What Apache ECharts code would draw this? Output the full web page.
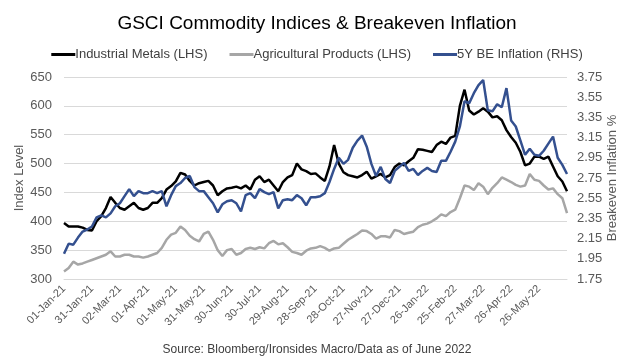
<!DOCTYPE html>
<html>
<head>
<meta charset="utf-8">
<title>GSCI Commodity Indices & Breakeven Inflation</title>
<script src="https://cdn.jsdelivr.net/npm/echarts@6/dist/echarts.min.js"></script>
<style>
    html, body { margin: 0; padding: 0; background: #fff; }
    #chart { width: 634px; height: 362px; }
</style>
</head>
<body>
<div id="chart"></div>
<script>
'use strict'
// 5-day samples from 01-Jan-21
var startDate = [2021, 0, 1];
var stepDays = 5;
var lastLabelIndex = 102; // 26-May-22

//Industrial Metals (LHS)
var metals = [397, 391, 391, 391, 389, 385, 384, 400, 409, 423, 442, 432, 423, 420, 426, 432, 423, 420, 423, 432,
    432, 440, 455, 461, 469, 484, 481, 470, 462, 466, 468, 470, 462, 445, 452, 457, 458, 460, 457, 462,
    455, 472, 478, 468, 472, 462, 452, 468, 476, 480, 500, 490, 487, 482, 483, 476, 470, 495, 532, 500,
    485, 480, 478, 476, 480, 486, 474, 478, 482, 476, 480, 494, 500, 497, 504, 510, 525, 524, 522, 520,
    532, 538, 534, 545, 548, 600, 628, 592, 585, 590, 596, 590, 580, 582, 575, 558, 546, 536, 520, 497,
    500, 512, 512, 508, 512, 495, 478, 469, 452];
//Agricultural Products (LHS)
var agri = [313, 319, 330, 325, 327, 330, 333, 336, 339, 342, 348, 339, 339, 342, 342, 339, 339, 337, 339, 342,
    345, 354, 368, 377, 380, 391, 385, 375, 369, 365, 378, 382, 368, 350, 340, 350, 352, 342, 345, 352,
    354, 352, 355, 353, 362, 366, 360, 362, 355, 347, 345, 342, 349, 353, 354, 357, 354, 349, 353, 354,
    361, 368, 373, 378, 384, 383, 378, 370, 374, 374, 372, 385, 383, 378, 380, 382, 390, 394, 396, 400,
    405, 412, 409, 416, 420, 440, 462, 460, 454, 466, 460, 447, 458, 466, 476, 472, 468, 463, 460, 462,
    482, 472, 470, 462, 455, 457, 447, 440, 414];
//5Y BE Inflation (RHS)
var breakeven = [2.00, 2.10, 2.09, 2.16, 2.22, 2.24, 2.27, 2.36, 2.38, 2.36, 2.40, 2.47, 2.50, 2.57, 2.64, 2.57, 2.62, 2.60, 2.60, 2.62,
    2.60, 2.62, 2.47, 2.58, 2.67, 2.70, 2.75, 2.77, 2.66, 2.62, 2.62, 2.56, 2.50, 2.41, 2.49, 2.52, 2.53, 2.50, 2.42, 2.58,
    2.60, 2.55, 2.64, 2.61, 2.59, 2.61, 2.45, 2.53, 2.54, 2.53, 2.58, 2.55, 2.48, 2.56, 2.56, 2.57, 2.60, 2.71, 2.84, 2.95,
    2.89, 2.93, 3.05, 3.12, 3.17, 3.06, 2.89, 2.77, 2.86, 2.74, 2.70, 2.82, 2.86, 2.90, 2.82, 2.84, 2.78, 2.82, 2.85, 2.82,
    2.81, 2.92, 2.92, 3.01, 3.11, 3.26, 3.51, 3.49, 3.59, 3.67, 3.72, 3.42, 3.41, 3.48, 3.45, 3.64, 3.32, 3.26, 3.12, 2.98,
    3.04, 2.98, 2.97, 3.02, 3.09, 3.16, 2.95, 2.88, 2.79];

var monthNames = ['Jan', 'Feb', 'Mar', 'Apr', 'May', 'Jun', 'Jul', 'Aug', 'Sep', 'Oct', 'Nov', 'Dec'];
var dates = [];
for (var i = 0; i < metals.length; i++) {
    var d = new Date(Date.UTC(startDate[0], startDate[1], startDate[2] + i * stepDays));
    var dd = ('0' + d.getUTCDate()).slice(-2);
    dates.push(dd + '-' + monthNames[d.getUTCMonth()] + '-' + String(d.getUTCFullYear()).slice(-2));
}

var font = 'Liberation Sans, Arial, sans-serif';
var chart = echarts.init(document.getElementById('chart'));
var option = {
    backgroundColor: '#ffffff',
    animation: false,
    textStyle: { fontFamily: font },
    title: [{
        text: 'GSCI Commodity Indices & Breakeven Inflation',
        left: 'center',
        top: 9,
        textStyle: { fontFamily: font, fontSize: 19, fontWeight: 'normal', color: '#000000' }
    }, {
        text: 'Source: Bloomberg/Ironsides Macro/Data as of June 2022',
        left: 'center',
        top: 339,
        textStyle: { fontFamily: font, fontSize: 12, fontWeight: 'normal', color: '#404040' }
    }],
    legend: {
        top: 43,
        left: 'center',
        icon: 'rect',
        itemWidth: 24,
        itemHeight: 3,
        itemGap: 22,
        textStyle: { fontFamily: font, fontSize: 13, color: '#404040', padding: [0, 0, 0, -5] },
        data: ['Industrial Metals (LHS)', 'Agricultural Products (LHS)', '5Y BE Inflation (RHS)']
    },
    grid: { left: 64, right: 67, top: 77, bottom: 83 },
    xAxis: {
        type: 'category',
        boundaryGap: false,
        data: dates,
        axisLine: { lineStyle: { color: '#d9d9d9' } },
        axisTick: { show: false },
        axisLabel: {
            interval: function (idx) { return idx % 6 === 0 && idx <= lastLabelIndex; },
            rotate: 45,
            margin: 8,
            fontSize: 11,
            color: '#595959',
            fontFamily: font
        }
    },
    yAxis: [{
        type: 'value',
        min: 300,
        max: 650,
        interval: 50,
        name: 'Index Level',
        nameLocation: 'middle',
        nameRotate: 90,
        nameGap: 38,
        nameMoveOverlap: false,
        nameTextStyle: { fontSize: 13, color: '#595959', fontFamily: font },
        axisLine: { show: false },
        axisTick: { show: false },
        axisLabel: { fontSize: 13, color: '#595959', margin: 12, fontFamily: font },
        splitLine: { lineStyle: { color: '#d9d9d9' } }
    }, {
        type: 'value',
        min: 1.75,
        max: 3.75,
        interval: 0.2,
        name: 'Breakeven Inflation %',
        nameLocation: 'middle',
        nameRotate: 90,
        nameGap: 39,
        nameMoveOverlap: false,
        nameTextStyle: { fontSize: 13, color: '#595959', fontFamily: font },
        axisLine: { show: false },
        axisTick: { show: false },
        axisLabel: {
            fontSize: 13, color: '#595959', margin: 10, fontFamily: font,
            formatter: function (v) { return v.toFixed(2); }
        },
        splitLine: { show: false }
    }],
    series: [{
        name: 'Agricultural Products (LHS)',
        type: 'line',
        yAxisIndex: 0,
        data: agri,
        showSymbol: false,
        color: '#a6a6a6',
        lineStyle: { width: 2.5, color: '#a6a6a6' }
    }, {
        name: 'Industrial Metals (LHS)',
        type: 'line',
        yAxisIndex: 0,
        data: metals,
        showSymbol: false,
        color: '#000000',
        lineStyle: { width: 2.5, color: '#000000' }
    }, {
        name: '5Y BE Inflation (RHS)',
        type: 'line',
        yAxisIndex: 1,
        data: breakeven,
        showSymbol: false,
        color: '#34508f',
        lineStyle: { width: 2.5, color: '#34508f' }
    }]
};
chart.setOption(option);
window.onresize = chart.resize;
</script>
</body>
</html>
